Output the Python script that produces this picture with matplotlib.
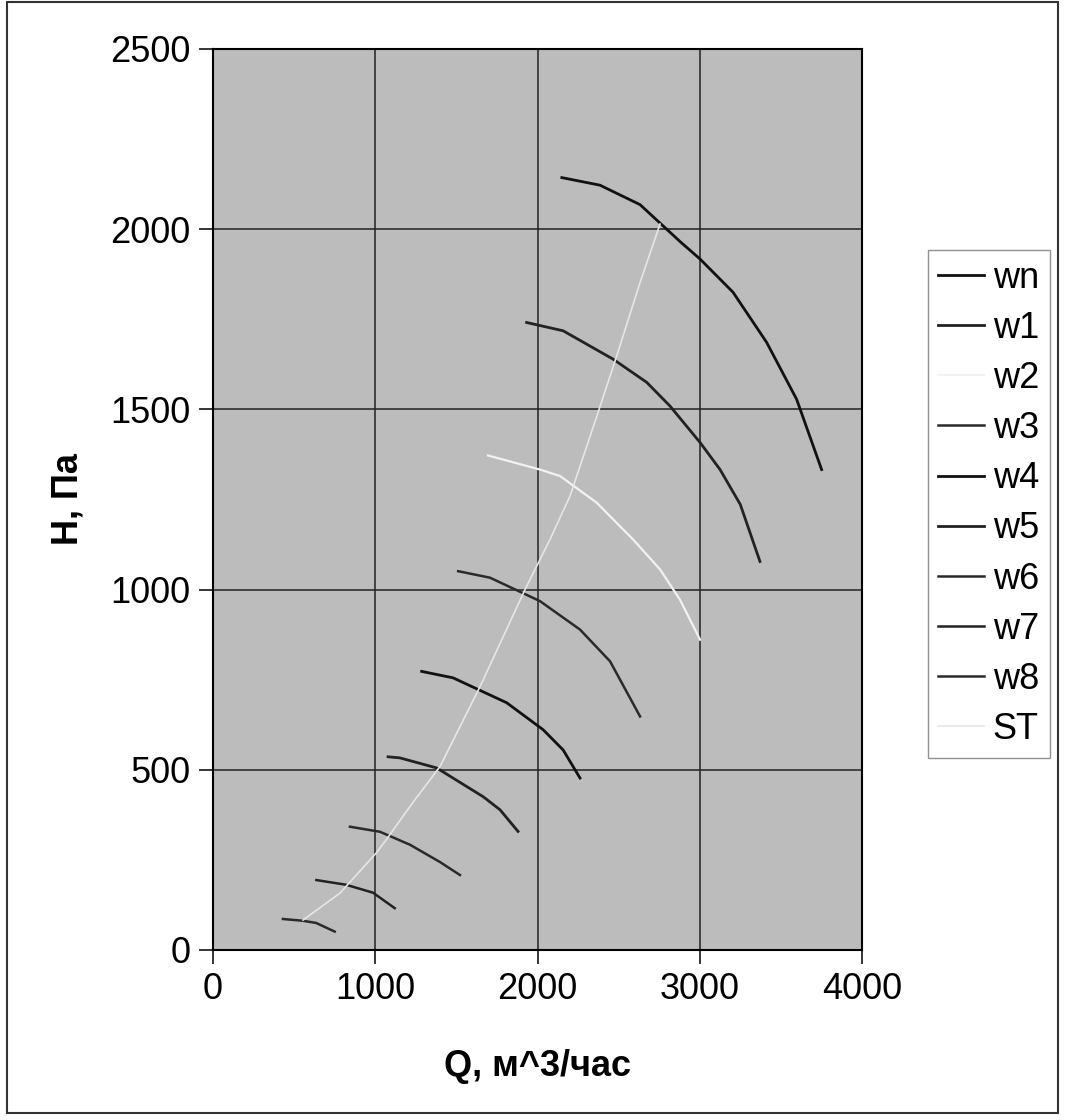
import matplotlib.pyplot as plt
from matplotlib.patches import Rectangle

plt.rcParams['font.family'] = ['Liberation Sans', 'DejaVu Sans']

# fan curves, Q in m^3/h, H in Pa
wn_q = [2150, 2385, 2632, 2774, 2880, 3002, 3205, 3412, 3597, 3751]
wn_h = [2143, 2122, 2068, 2009, 1965, 1917, 1825, 1686, 1528, 1333]
w1_q = [1933, 2158, 2467, 2673, 2817, 3002, 3125, 3250, 3371]
w1_h = [1741, 1718, 1639, 1575, 1509, 1408, 1333, 1236, 1078]
w2_q = [1695, 2015, 2139, 2365, 2589, 2755, 2878, 3002]
w2_h = [1372, 1333, 1315, 1241, 1139, 1056, 972, 861]
w3_q = [1511, 1707, 2015, 2262, 2447, 2632]
w3_h = [1051, 1033, 968, 889, 801, 648]
w4_q = [1286, 1480, 1810, 2035, 2158, 2262]
w4_h = [773, 755, 686, 611, 555, 477]
w5_q = [1079, 1152, 1379, 1666, 1769, 1880]
w5_h = [536, 533, 505, 425, 389, 329]
w6_q = [844, 1029, 1214, 1399, 1522]
w6_h = [342, 328, 292, 244, 208]
w7_q = [637, 820, 986, 1120]
w7_h = [194, 181, 159, 116]
w8_q = [431, 555, 636, 750]
w8_h = [86, 81, 75, 51]
st_q = [555, 783, 1006, 1068, 1233, 1399, 1646, 1923, 2077, 2200, 2365, 2488, 2632, 2755]
st_h = [83, 158, 269, 306, 410, 509, 731, 1000, 1139, 1259, 1480, 1648, 1852, 2014]

names = ['wn', 'w1', 'w2', 'w3', 'w4', 'w5', 'w6', 'w7', 'w8', 'ST']
series = [(wn_q, wn_h), (w1_q, w1_h), (w2_q, w2_h), (w3_q, w3_h), (w4_q, w4_h),
          (w5_q, w5_h), (w6_q, w6_h), (w7_q, w7_h), (w8_q, w8_h), (st_q, st_h)]
colors = ['#111111', '#222222', '#f2f2f2', '#2a2a2a', '#111111',
          '#222222', '#2a2a2a', '#222222', '#2a2a2a', '#e6e6e6']
widths = [2.0, 2.0, 1.6, 1.8, 2.0, 2.0, 1.8, 1.8, 1.8, 1.2]

fig = plt.figure(figsize=(10.65, 11.2), dpi=100)
ax = fig.add_axes([0.2, 0.1518, 0.6094, 0.8045])
ax.set_facecolor('#bcbcbc')

for (q, h), name, c, lw in zip(series, names, colors, widths):
    ax.plot(q, h, color=c, lw=lw, label=name)

ax.set_xlim(0, 4000)
ax.set_ylim(0, 2500)
ax.set_xticks([0, 1000, 2000, 3000, 4000])
ax.set_yticks([0, 500, 1000, 1500, 2000, 2500])
ax.grid(color='#222222', lw=1.1)
ax.set_axisbelow(True)
ax.tick_params(labelsize=26, length=10, width=1.1, direction='out', pad=6)
for s in ax.spines.values():
    s.set_linewidth(1.5)
ax.set_xlabel('Q, м^3/час', fontsize=26, fontweight='bold', labelpad=30)
ax.set_ylabel('H, Па', fontsize=26, fontweight='bold', labelpad=18)

leg = fig.legend(loc='upper left', bbox_to_anchor=(0.871, 0.777), fontsize=26,
                 frameon=True, fancybox=False, edgecolor='#777777',
                 handlelength=1.25, handletextpad=0.25, labelspacing=0.42,
                 borderpad=0.3, borderaxespad=0)
leg.get_frame().set_linewidth(1.0)

fig.patches.append(Rectangle((0.007, 0.006), 0.986, 0.992, transform=fig.transFigure,
                             fill=False, edgecolor='#333333', lw=1.5))

fig.savefig('out.png', dpi=100)
